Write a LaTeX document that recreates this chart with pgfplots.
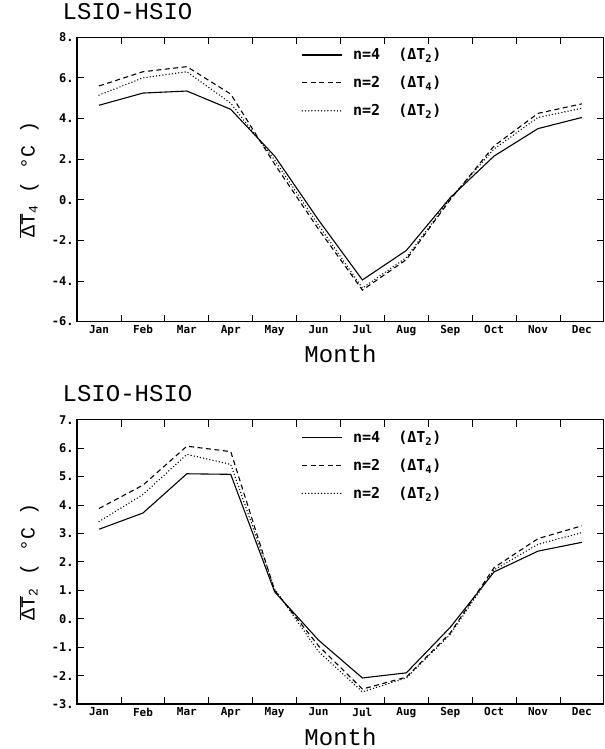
\documentclass[border=0pt]{standalone}
\usepackage{fontspec}
\usepackage{pgfplots}
\pgfplotsset{compat=1.18}
\newfontfamily\tickfont{DejaVu Sans Mono}
\newfontfamily\labfont{Liberation Mono}

% --- data ---
\pgfplotstableread{
m  s4    d4    p2
1  4.65  5.60  5.15
2  5.25  6.30  6.00
3  5.35  6.55  6.30
4  4.45  5.20  4.75
5  2.15  1.75  1.95
6  -1.00 -1.45 -1.25
7  -3.95 -4.45 -4.35
8  -2.50 -2.95 -2.85
9  0.10  0.00  0.05
10 2.15  2.65  2.50
11 3.50  4.25  4.05
12 4.05  4.72  4.50
}\topdata
\pgfplotstableread{
m  s4    d4    p2
1  3.15  3.88  3.42
2  3.72  4.70  4.37
3  5.10  6.07  5.78
4  5.08  5.88  5.43
5  0.95  1.00  1.05
6  -0.75 -0.95 -1.15
7  -2.08 -2.47 -2.57
8  -1.90 -2.05 -2.08
9  -0.30 -0.50 -0.55
10 1.65  1.80  1.72
11 2.38  2.82  2.62
12 2.69  3.27  3.03
}\botdata

\pgfplotsset{
  panel/.style={
    scale only axis, width=526pt, height=284pt,
    xmin=0.5, xmax=12.5,
    xtick={1,...,12},
    xticklabels={Jan,Feb,Mar,Apr,May,Jun,Jul,Aug,Sep,Oct,Nov,Dec},
    major x tick style={draw=none},
    minor xtick={1.5,2.5,...,11.5},
    major tick length=7pt, minor tick length=7pt,
    tick align=inside,
    tick style={black, line width=0.9pt},
    axis line style={line width=1.3pt},
    ticklabel style={font=\tickfont\bfseries\fontsize{11}{12}\selectfont},
    yticklabel style={font=\tickfont\bfseries\fontsize{12}{13}\selectfont},
    xlabel={Month},
    xlabel style={font=\labfont\fontsize{24}{26}\selectfont, yshift=-3pt},
    ylabel style={font=\labfont\fontsize{20}{22}\selectfont,
                  at={(axis description cs:0,0.5)}, anchor=center, yshift=48pt},
    title style={at={(0,1)}, anchor=south west, xshift=-18pt, yshift=8pt,
                 font=\labfont\fontsize{24}{26}\selectfont},
    legend cell align=left,
    legend image code/.code={\draw[##1] (0pt,0pt) -- (40pt,0pt);},
    legend style={draw=none, fill=none, at={(0.42,0.975)}, anchor=north west,
                  font=\tickfont\bfseries\fontsize{15}{16}\selectfont,
                  row sep=11pt,
                  /tikz/every odd column/.append style={column sep=8pt}},
  },
  sol/.style={black, line width=1.1pt},
  dsh/.style={black, line width=1.1pt, dash pattern=on 5pt off 3.5pt},
  dtt/.style={black, line width=1.5pt, line cap=round, dash pattern=on 0pt off 3.2pt},
}

\begin{document}
\begin{tikzpicture}
\begin{axis}[panel,
    title={LSIO-HSIO},
    ymin=-6, ymax=8,
    ytick={-6,-4,...,8},
    yticklabels={-6.,-4.,-2.,0.,2.,4.,6.,8.},
    ylabel={$\overline{\mbox{ΔT}}_{\mbox{\fontsize{13}{13}\selectfont 4}}$ ( °C )},
]
\coordinate (tl) at (rel axis cs:0,1);
\addplot[sol] table[x=m,y=s4] {\topdata};
\addplot[dsh] table[x=m,y=d4] {\topdata};
\addplot[dtt] table[x=m,y=p2] {\topdata};
\legend{n=4\ \ (ΔT\textsubscript{2}),n=2\ \ (ΔT\textsubscript{4}),n=2\ \ (ΔT\textsubscript{2})}
\end{axis}
\begin{axis}[panel, at={(0,-382pt)},
    title={LSIO-HSIO},
    ymin=-3, ymax=7,
    ytick={-3,...,7},
    yticklabels={-3.,-2.,-1.,0.,1.,2.,3.,4.,5.,6.,7.},
    ylabel={$\overline{\mbox{ΔT}}_{\mbox{\fontsize{13}{13}\selectfont 2}}$ ( °C )},
]
\addplot[sol] table[x=m,y=s4] {\botdata};
\addplot[dsh] table[x=m,y=d4] {\botdata};
\addplot[dtt] table[x=m,y=p2] {\botdata};
\legend{n=4\ \ (ΔT\textsubscript{2}),n=2\ \ (ΔT\textsubscript{4}),n=2\ \ (ΔT\textsubscript{2})}
\end{axis}
% blank margin on the left, as in the scan
\path (tl) ++(-77pt,0pt);
\end{tikzpicture}
\end{document}
